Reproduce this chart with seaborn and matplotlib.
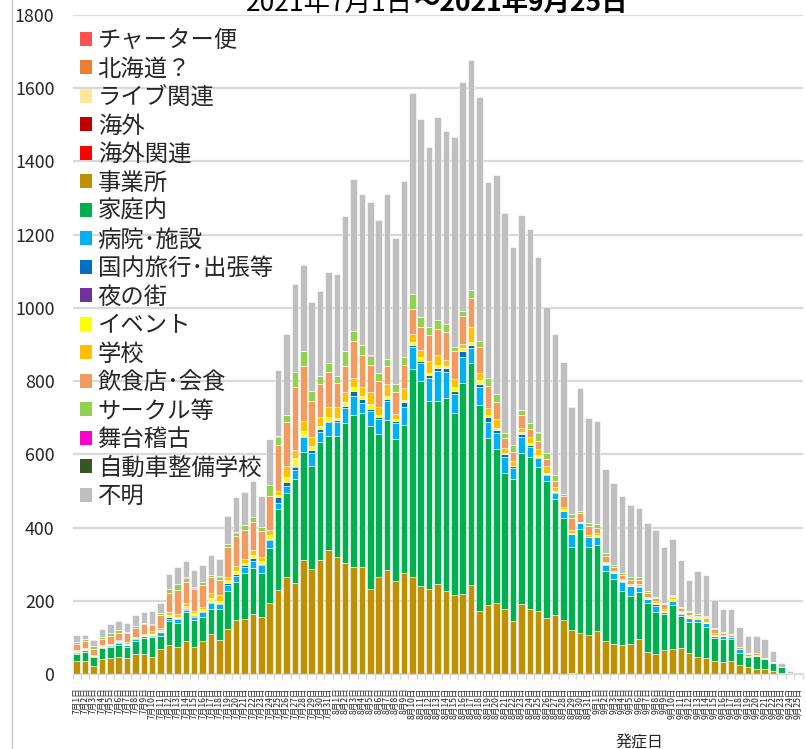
import numpy as np
import pandas as pd
import matplotlib
matplotlib.use("Agg")
import matplotlib.pyplot as plt
from matplotlib.patches import Patch
from matplotlib.lines import Line2D
import seaborn as sns

sns.set_theme(style="white")
plt.rcParams["font.family"] = ["Noto Sans CJK JP", "DejaVu Sans"]

# ---- data: daily cases by infection route, 7/1 - 9/25 ----
dates = pd.date_range("2021-07-01", "2021-09-25", freq="D")
day_labels = [f"{d.month}月{d.day}日" for d in dates]

jigyosho = [36, 36, 23, 40, 44, 47, 44, 55, 55, 47, 67, 78, 75, 89, 75, 89, 109, 93, 122, 148,
            150, 164, 155, 193, 229, 264, 248, 311, 287, 311, 339, 319, 302, 293, 293, 231, 264, 284, 254, 277,
            264, 240, 232, 247, 227, 216, 219, 243, 172, 189, 193, 178, 145, 192, 178, 172, 154, 161, 148, 118,
            113, 107, 118, 91, 82, 78, 82, 96, 61, 55, 66, 69, 72, 56, 47, 45, 36, 34, 36, 24,
            20, 13, 14, 9, 2, 0, 0]
katei = [19, 25, 23, 32, 31, 33, 31, 36, 44, 55, 37, 66, 65, 79, 73, 68, 68, 84, 106, 104,
         127, 125, 122, 152, 221, 231, 284, 295, 281, 322, 312, 332, 383, 415, 419, 447, 391, 410, 389, 403,
         568, 559, 515, 500, 528, 498, 575, 606, 563, 455, 421, 372, 387, 411, 414, 393, 372, 316, 277, 228,
         282, 239, 234, 190, 178, 150, 132, 129, 134, 115, 98, 119, 87, 87, 96, 84, 63, 61, 59, 34,
         26, 36, 26, 20, 16, 2, 0]
byoin = [3, 4, 3, 2, 2, 6, 3, 4, 4, 3, 10, 7, 9, 7, 8, 11, 16, 13, 15, 15,
         16, 20, 21, 21, 18, 19, 24, 40, 35, 27, 36, 38, 42, 52, 29, 41, 42, 53, 42, 50,
         62, 50, 61, 80, 71, 51, 73, 41, 50, 44, 45, 44, 32, 45, 29, 24, 18, 17, 19, 34,
         17, 27, 23, 17, 17, 24, 25, 12, 10, 17, 6, 12, 6, 11, 7, 9, 6, 10, 5, 9,
         3, 1, 0, 0, 2, 0, 0]
kokunai = [1, 1, 1, 1, 1, 2, 1, 2, 1, 2, 2, 4, 3, 2, 3, 4, 5, 5, 5, 5,
           4, 8, 3, 4, 16, 11, 9, 2, 9, 9, 3, 5, 6, 13, 10, 6, 5, 4, 7, 12,
           6, 7, 9, 10, 9, 9, 14, 9, 7, 13, 8, 7, 3, 7, 5, 5, 3, 2, 2, 0,
           0, 0, 0, 2, 0, 2, 2, 2, 0, 4, 0, 0, 1, 0, 1, 0, 0, 0, 0, 0,
           0, 0, 0, 0, 0, 0, 0]
event = [3, 2, 2, 2, 1, 3, 4, 2, 3, 3, 3, 6, 5, 8, 4, 5, 9, 5, 8, 8,
         7, 7, 7, 10, 5, 14, 22, 14, 12, 9, 11, 6, 11, 12, 7, 13, 6, 7, 4, 6,
         8, 9, 5, 8, 7, 11, 9, 9, 11, 7, 5, 4, 2, 5, 4, 3, 3, 3, 4, 4,
         2, 0, 4, 3, 2, 3, 2, 0, 3, 3, 3, 4, 3, 4, 4, 5, 2, 0, 1, 2,
         0, 0, 2, 0, 0, 0, 0]
gakko = [4, 2, 1, 2, 2, 3, 4, 2, 3, 8, 8, 7, 7, 6, 6, 7, 13, 17, 9, 16,
         11, 15, 11, 13, 10, 29, 22, 28, 24, 25, 26, 29, 26, 23, 25, 31, 22, 33, 14, 32,
         21, 20, 33, 25, 16, 20, 12, 41, 20, 18, 24, 12, 13, 11, 18, 17, 19, 11, 6, 8,
         2, 7, 5, 4, 3, 2, 3, 7, 3, 5, 4, 7, 3, 4, 3, 9, 4, 2, 0, 0,
         0, 3, 3, 0, 0, 0, 0]
inshoku = [15, 20, 16, 16, 23, 18, 24, 26, 27, 16, 35, 52, 65, 57, 59, 59, 44, 40, 82, 81,
           78, 77, 71, 93, 127, 119, 172, 148, 99, 88, 97, 65, 72, 102, 88, 75, 70, 49, 61, 63,
           67, 64, 71, 73, 77, 76, 76, 79, 70, 61, 46, 27, 25, 37, 20, 23, 18, 16, 30, 31,
           23, 24, 14, 14, 11, 11, 11, 11, 9, 8, 14, 2, 7, 6, 5, 5, 12, 6, 6, 5,
           5, 3, 0, 3, 0, 0, 0]
circle = [7, 5, 7, 7, 7, 9, 5, 5, 3, 0, 4, 11, 18, 12, 5, 9, 6, 9, 8, 9,
          15, 14, 11, 30, 22, 21, 41, 41, 27, 24, 23, 21, 39, 28, 28, 25, 21, 20, 20, 24,
          41, 27, 21, 24, 20, 13, 14, 21, 17, 21, 23, 15, 19, 13, 17, 22, 16, 18, 6, 11,
          5, 9, 11, 9, 5, 7, 7, 9, 8, 4, 3, 4, 5, 4, 2, 2, 2, 1, 2, 1,
          2, 2, 0, 0, 0, 0, 0]
fumei = [18, 11, 17, 20, 26, 23, 24, 28, 28, 34, 29, 42, 44, 44, 46, 46, 55, 47, 77, 95,
         89, 98, 85, 125, 179, 220, 241, 236, 243, 230, 250, 277, 367, 414, 413, 419, 419, 451, 398, 480,
         550, 540, 493, 555, 527, 573, 625, 629, 666, 536, 598, 601, 541, 533, 531, 478, 398, 385, 361, 293,
         336, 286, 282, 229, 223, 209, 198, 187, 184, 182, 152, 152, 127, 85, 116, 111, 77, 64, 69, 54,
         49, 47, 51, 32, 9, 6, 0]

# routes that appear only on a few days
yoru_no_machi = {"7月14日": 2, "7月15日": 3, "7月27日": 2, "7月28日": 2, "7月31日": 2}
butai_keiko = {"7月10日": 3, "7月14日": 2, "7月15日": 2, "7月18日": 2, "7月20日": 2, "7月25日": 2,
               "8月2日": 2, "8月5日": 2, "8月8日": 2, "8月14日": 2, "8月25日": 2, "8月26日": 2,
               "9月2日": 1}
kaigai_kanren = {"8月29日": 2}
charter = {}
hokkaido = {}
live = {}
kaigai = {}
jidosha = {}

# stacking order, bottom to top (also the legend order, top to bottom)
routes = ["チャーター便", "北海道？", "ライブ関連", "海外", "海外関連", "事業所", "家庭内",
          "病院･施設", "国内旅行･出張等", "夜の街", "イベント", "学校", "飲食店･会食",
          "サークル等", "舞台稽古", "自動車整備学校", "不明"]
colors = ["#FF5050", "#ED7D31", "#FFE699", "#C00000", "#FF0000", "#BF9000", "#00B050",
          "#00B0F0", "#0070C0", "#7030A0", "#FFFF00", "#FFC000", "#F39A5E",
          "#92D050", "#FF00CC", "#375623", "#BFBFBF"]
series = [charter, hokkaido, live, kaigai, kaigai_kanren, jigyosho, katei,
          byoin, kokunai, yoru_no_machi, event, gakko, inshoku,
          circle, butai_keiko, jidosha, fumei]

rows = []
for name, s in zip(routes, series):
    vals = [s.get(lbl, 0) for lbl in day_labels] if isinstance(s, dict) else s
    for i, v in enumerate(vals):
        if v > 0:
            rows.append({"day": i, "route": name, "count": v})
df = pd.DataFrame(rows)

present = [r for r in routes if r in set(df["route"])]
palette = dict(zip(routes, colors))

W, H = 806, 749
fig = plt.figure(figsize=(W / 100, H / 100), dpi=100)
ax = fig.add_axes([72.5 / W, 1 - 674 / H, 730 / W, 659 / H])

# seaborn stacks the first hue level on top, so pass the order reversed
sns.histplot(data=df, x="day", weights="count", hue="route",
             hue_order=present[::-1], palette=palette, multiple="stack",
             discrete=True, binrange=(0, 86), shrink=0.78, alpha=1,
             edgecolor="white", linewidth=0.4, legend=False, ax=ax)

ax.set_xlim(-0.5, 86.5)
ax.set_ylim(0, 1800)
ax.set_yticks(np.arange(0, 1801, 200))
ax.yaxis.grid(True, color="#d9d9d9", linewidth=1.6)
ax.set_axisbelow(True)
for side in ["top", "right", "left"]:
    ax.spines[side].set_visible(False)
ax.spines["bottom"].set_color("#d9d9d9")
ax.spines["bottom"].set_linewidth(1.0)

ax.set_xticks(np.arange(len(day_labels)))
ax.set_xticklabels(day_labels, rotation=90, fontsize=6.2, va="top", ha="center")
ax.set_xticks(np.arange(-0.5, len(day_labels), 1), minor=True)
ax.tick_params(axis="x", which="major", length=0, pad=9.5, colors="#262626")
ax.tick_params(axis="x", which="minor", length=3.6, width=1, color="#d9d9d9", direction="out",
               bottom=True)
ax.tick_params(axis="y", length=0, pad=13, labelsize=12.8, colors="#262626")

ax.set_ylabel("")
ax.set_xlabel("発症日", fontsize=11.5, color="#262626")
ax.xaxis.set_label_coords((640 - 72.5) / 730, (674 - 735) / 659)

handles = [Patch(facecolor=c, edgecolor="none") for c in colors]
ax.legend(handles, routes, loc="upper left", bbox_to_anchor=(79.7 / W, 1 - 29 / H),
          bbox_transform=fig.transFigure, frameon=False, fontsize=16.8,
          handlelength=0.54, handleheight=0.54, handletextpad=0.23,
          labelspacing=0.236, borderpad=0, borderaxespad=0)

fig.text(413 / W, 1 - 11 / H, "2021年7月1日", fontsize=19, ha="right", va="baseline",
         color="black")
fig.text(413 / W, 1 - 11 / H, "～2021年9月25日", fontsize=19, fontweight="bold",
         ha="left", va="baseline", color="black")

fig.add_artist(Line2D([12 / W, 12 / W], [0, 1], transform=fig.transFigure,
                      color="#c8c8c8", linewidth=1))

fig.savefig("out.png", dpi=100)
